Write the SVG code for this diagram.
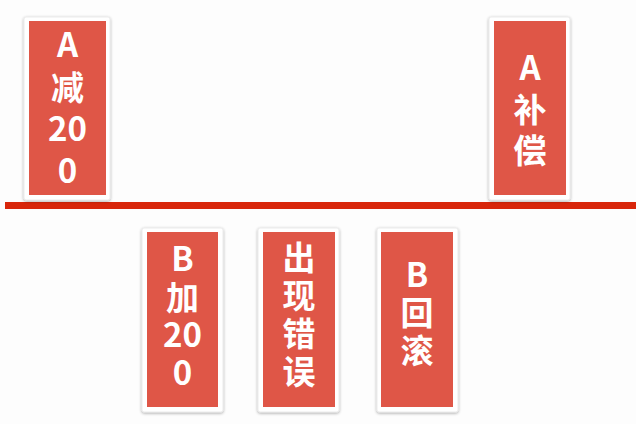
<svg xmlns="http://www.w3.org/2000/svg" width="636" height="424" viewBox="0 0 636 424">
<defs>
<filter id="sh" x="-20%" y="-10%" width="140%" height="120%">
<feGaussianBlur in="SourceAlpha" stdDeviation="1.5"/>
<feOffset dx="0" dy="1" result="b"/>
<feComponentTransfer><feFuncA type="linear" slope="0.35"/></feComponentTransfer>
<feMerge><feMergeNode/><feMergeNode in="SourceGraphic"/></feMerge>
</filter>
</defs>
<style>
.frame{fill:#ffffff;stroke:#e6e6e6;stroke-width:0.8;filter:url(#sh)}
.card{fill:#df5647}
.t{font-family:"Noto Sans CJK SC","Liberation Sans",sans-serif;font-weight:bold;font-size:33px;fill:#ffffff;text-anchor:middle}
</style>
<rect width="636" height="424" fill="#fdfdfd"/>
<g id="connectors">
<rect x="5" y="202" width="631" height="7" fill="#d8260b"/>
</g>
<g id="a-minus">
<rect class="frame" x="24" y="17" width="86" height="183" rx="2"/>
<rect class="card" x="29" y="21" width="77" height="174"/>
<text class="t"><tspan x="67.5" y="57">A</tspan><tspan x="67.5" y="100">减</tspan><tspan x="67.5" y="141">20</tspan><tspan x="67.5" y="183">0</tspan></text>
</g>
<g id="a-comp">
<rect class="frame" x="489" y="17" width="81" height="183" rx="2"/>
<rect class="card" x="494" y="21" width="72" height="174"/>
<text class="t"><tspan x="530" y="80">A</tspan><tspan x="530" y="122">补</tspan><tspan x="530" y="163">偿</tspan></text>
</g>
<g id="b-plus">
<rect class="frame" x="142" y="228" width="81" height="184" rx="2"/>
<rect class="card" x="147" y="232" width="71" height="175"/>
<text class="t"><tspan x="182.5" y="271">B</tspan><tspan x="182.5" y="310">加</tspan><tspan x="182.5" y="347">20</tspan><tspan x="182.5" y="385">0</tspan></text>
</g>
<g id="error">
<rect class="frame" x="258" y="228" width="81" height="184" rx="2"/>
<rect class="card" x="263" y="232" width="72" height="175"/>
<text class="t"><tspan x="299" y="270">出</tspan><tspan x="299" y="308">现</tspan><tspan x="299" y="346">错</tspan><tspan x="299" y="384">误</tspan></text>
</g>
<g id="b-rollback">
<rect class="frame" x="377" y="228" width="81" height="184" rx="2"/>
<rect class="card" x="381" y="232" width="72" height="175"/>
<text class="t"><tspan x="417" y="287">B</tspan><tspan x="417" y="325">回</tspan><tspan x="417" y="363">滚</tspan></text>
</g>
</svg>
